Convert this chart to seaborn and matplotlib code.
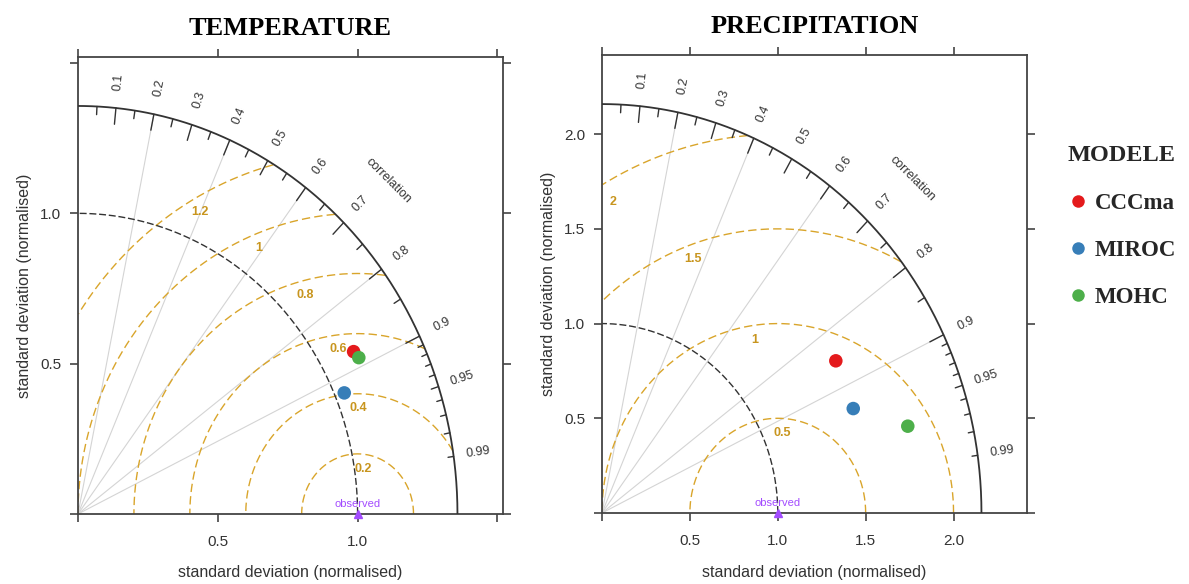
import numpy as np
import pandas as pd
import matplotlib
matplotlib.use("Agg")
import matplotlib.pyplot as plt
import seaborn as sns

sns.set_style("white")
plt.rcParams["font.family"] = ["Liberation Sans", "DejaVu Sans"]

# -------------------------------------------------
# data (normalised sd + correlation)
# -------------------------------------------------
models = ["CCCma", "MIROC", "MOHC"]
temp_sd = [1.124, 1.034, 1.131]
temp_cor = [0.877, 0.921, 0.888]
prec_sd = [1.554, 1.532, 1.799]
prec_cor = [0.856, 0.933, 0.967]

temp_rms = [0.2, 0.4, 0.6, 0.8, 1.0, 1.2]
prec_rms = [0.5, 1.0, 1.5, 2.0]

temp_ticks = [0, 0.5, 1.0, 1.5]
temp_ticklabels = ["", "0.5", "1.0", ""]
prec_ticks = [0, 0.5, 1.0, 1.5, 2.0]
prec_ticklabels = ["", "0.5", "1.0", "1.5", "2.0"]

corr_lines = [0.2, 0.4, 0.6, 0.8, 0.9]
corr_labels = [0.1, 0.2, 0.3, 0.4, 0.5, 0.6, 0.7, 0.8, 0.9, 0.95, 0.99]
big_ticks = [0.1, 0.2, 0.3, 0.4, 0.5, 0.6, 0.7, 0.8, 0.9]
med_ticks = [0.05, 0.15, 0.25, 0.35, 0.45, 0.55, 0.65, 0.75, 0.85, 0.95]
small_ticks = [0.91, 0.92, 0.93, 0.94, 0.96, 0.97, 0.98, 0.99]

palette = {"CCCma": "#E41A1C", "MIROC": "#377EB8", "MOHC": "#4DAF4A"}
gold = "#D9A52B"
gold_txt = "#C8951E"
dark = "#333333"
purple = "#A34BFF"


def taylor(ax, sd, cor, rms, ticks, ticklabels, title, show_legend=False):
    sd = np.array(sd)
    cor = np.array(cor)
    maxsd = 1.2 * sd.max()
    lim = 1.12 * maxsd

    # correlation grid lines
    for c in corr_lines:
        ax.plot([0, maxsd * c], [0, maxsd * np.sqrt(1 - c**2)],
                color="#d4d4d4", lw=0.8, zorder=1)

    # centred rms arcs round the observed point
    t = np.linspace(0, np.pi, 600)
    for g in rms:
        x = 1 + g * np.cos(t)
        y = g * np.sin(t)
        bad = (x < 0) | (np.hypot(x, y) > maxsd)
        x[bad] = np.nan
        y[bad] = np.nan
        ax.plot(x, y, color=gold, lw=1.0, ls=(0, (6, 3)), zorder=2)
        ang = np.radians(75 + 50 * g / maxsd)
        rr = g - 0.035 * maxsd
        lx = max(1 + rr * np.cos(ang), 0.03 * maxsd)
        ax.text(lx, rr * np.sin(ang), f"{g:g}",
                color=gold_txt, fontsize=9, fontweight="bold",
                ha="center", va="center", zorder=3)

    # sd = 1 arc
    q = np.linspace(0, np.pi / 2, 300)
    ax.plot(np.cos(q), np.sin(q), color=dark, lw=1.0, ls=(0, (5, 2)), zorder=2)

    # outer arc + ticks
    ax.plot(maxsd * np.cos(q), maxsd * np.sin(q), color=dark, lw=1.3, zorder=3)
    for vals, frac in [(big_ticks, 0.96), (med_ticks, 0.98), (small_ticks, 0.985)]:
        for c in vals:
            a = np.arccos(c)
            ax.plot([maxsd * np.cos(a), frac * maxsd * np.cos(a)],
                    [maxsd * np.sin(a), frac * maxsd * np.sin(a)],
                    color=dark, lw=1.0, zorder=3)
    for c in corr_labels:
        a = np.arccos(c)
        ax.text(1.065 * maxsd * np.cos(a), 1.065 * maxsd * np.sin(a), f"{c:g}",
                rotation=np.degrees(a), rotation_mode="anchor",
                ha="center", va="center", fontsize=9, color=dark)
    a = np.radians(45)
    ax.text(1.155 * maxsd * np.cos(a), 1.155 * maxsd * np.sin(a), "correlation",
            rotation=-45, rotation_mode="anchor", ha="center", va="center",
            fontsize=9, color=dark)

    # observed point
    ax.plot([1], [0], marker="^", color=purple, ms=6, clip_on=False, zorder=4)
    ax.text(1, 0.012 * maxsd, "observed", color=purple, fontsize=8,
            ha="center", va="bottom", zorder=4)

    # models
    df = pd.DataFrame({"model": models,
                       "x": sd * cor,
                       "y": sd * np.sqrt(1 - cor**2)})
    sns.scatterplot(data=df, x="x", y="y", hue="model", palette=palette,
                    s=95, edgecolor="none", legend=show_legend, ax=ax, zorder=5)

    ax.set_xlim(0, lim)
    ax.set_ylim(0, lim)
    ax.set_xticks(ticks)
    ax.set_xticklabels(ticklabels)
    ax.set_yticks(ticks)
    ax.set_yticklabels(ticklabels)
    ax.tick_params(direction="out", length=6, width=1.2, colors="#444444",
                   labelcolor=dark, labelsize=11, top=True, right=True,
                   bottom=True, left=True, pad=6)
    ax.tick_params(axis="x", pad=9)
    for s in ax.spines.values():
        s.set_color("#444444")
        s.set_linewidth(1.3)
    ax.set_xlabel("standard deviation (normalised)", fontsize=11.5, color=dark,
                  labelpad=12)
    ax.set_ylabel("standard deviation (normalised)", fontsize=11.5, color=dark,
                  labelpad=6)
    ax.set_title(title, fontsize=19, fontweight="bold", color="black",
                 family=["Liberation Serif", "DejaVu Serif"], pad=16)


fig = plt.figure(figsize=(11.89, 5.84), dpi=100)
ax1 = fig.add_axes([78 / 1189, 70 / 584, 425 / 1189, 457 / 584])
ax2 = fig.add_axes([602 / 1189, 71 / 584, 425 / 1189, 458 / 584])

taylor(ax1, temp_sd, temp_cor, temp_rms, temp_ticks, temp_ticklabels, "TEMPERATURE")
taylor(ax2, prec_sd, prec_cor, prec_rms, prec_ticks, prec_ticklabels, "PRECIPITATION",
       show_legend=True)

handles, labels = ax2.get_legend_handles_labels()
ax2.get_legend().remove()
for h in handles:
    h.set_markersize(9)
serif_bold = {"family": ["Liberation Serif", "DejaVu Serif"], "weight": "bold"}
fig.legend(handles, labels, title="MODELE", loc="upper left",
           bbox_to_anchor=(1050 / 1189, 1 - 128 / 584), frameon=False,
           prop={**serif_bold, "size": 16.5},
           title_fontproperties={**serif_bold, "size": 17.5},
           alignment="left", labelspacing=1.15, handletextpad=0.3,
           handlelength=0.9, borderpad=0.75, borderaxespad=0)

fig.savefig("out.png", dpi=100)
